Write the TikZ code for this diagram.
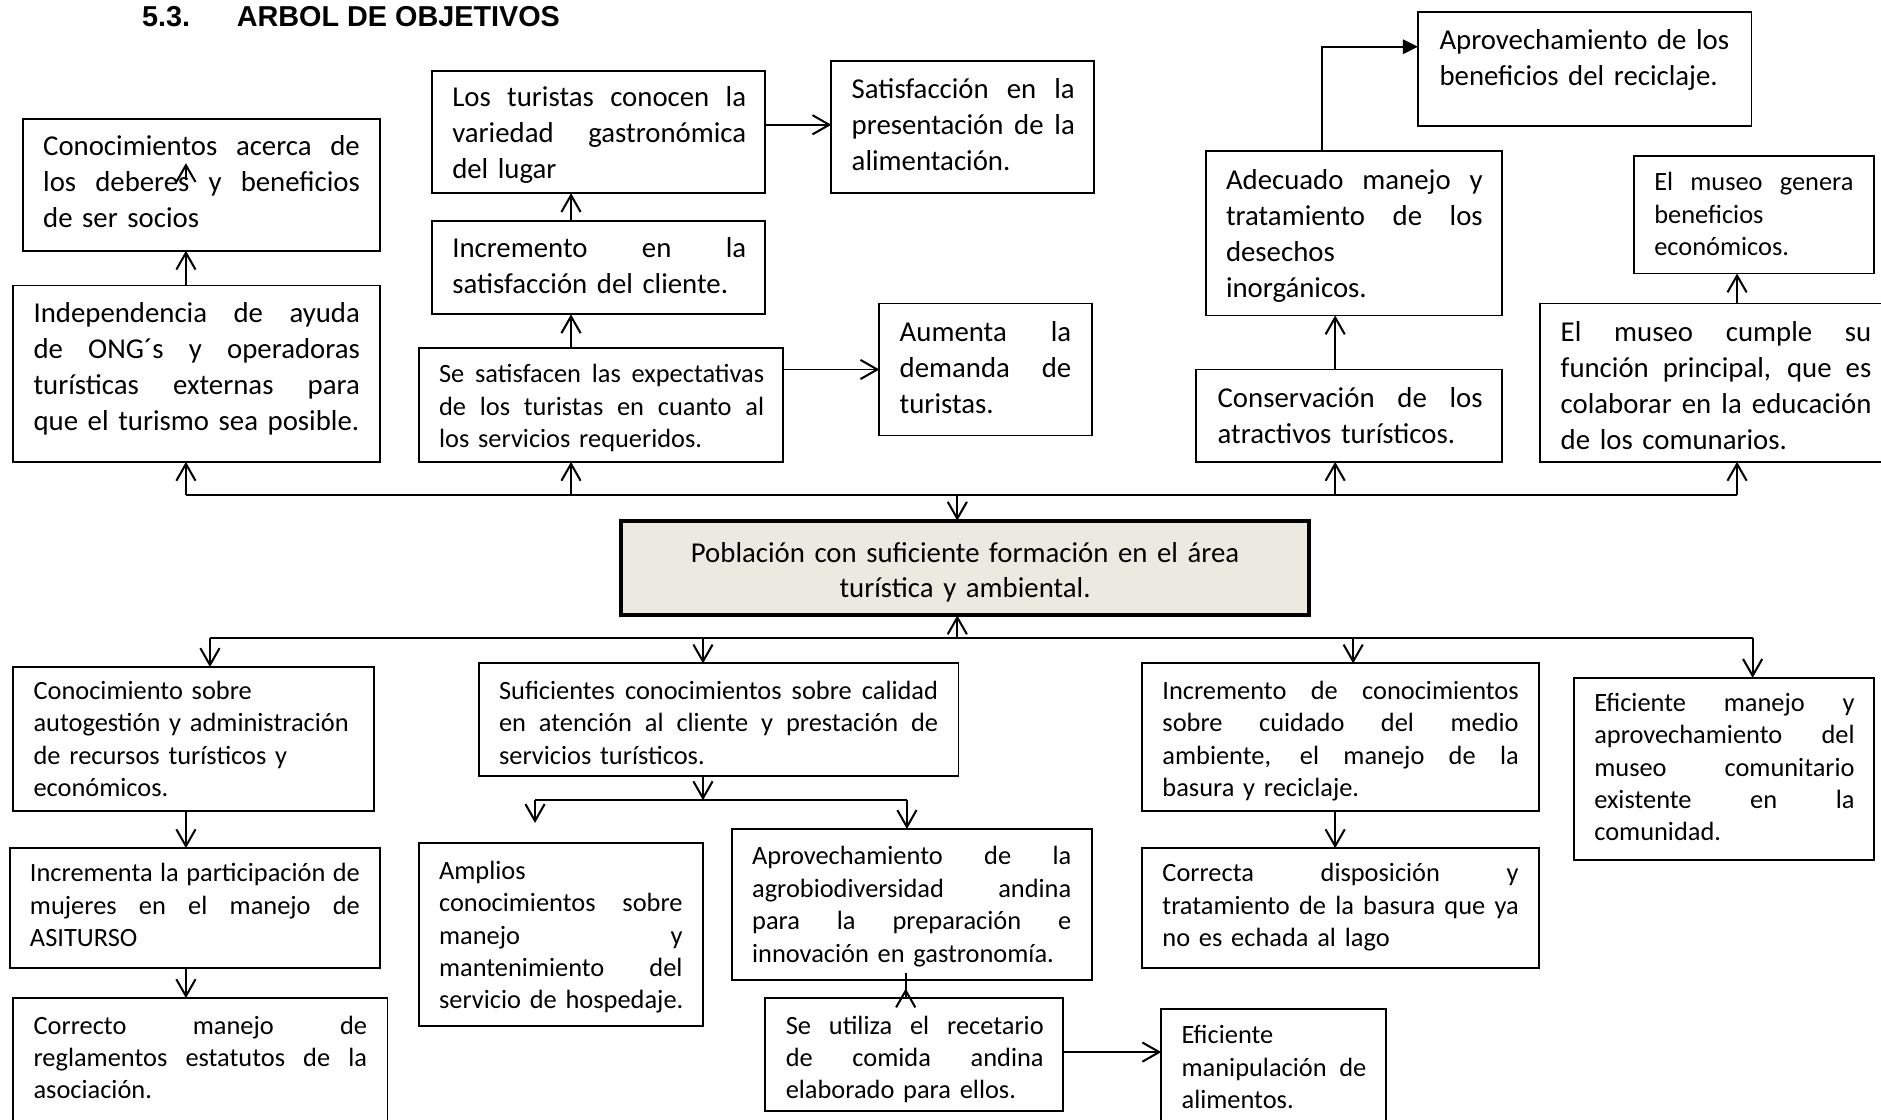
\documentclass[tikz,border=0pt]{standalone}
\usepackage{fontspec}
\setmainfont{Carlito}
\newfontfamily\titlefont{Liberation Sans}
\usetikzlibrary{arrows.meta,calc}
\definecolor{goalfill}{RGB}{236,234,224}
\tikzset{
  bx/.style={draw=black, line width=0.8pt, inner sep=0pt, outer sep=0pt, anchor=north west},
  big/.style={font=\fontsize{12}{15}\selectfont},
  small/.style={font=\fontsize{11}{13.5}\selectfont},
  txt/.style={inner sep=0pt, outer sep=0pt, anchor=base west, align=left},
  ln/.style={line width=0.8pt},
  arr/.style={line width=0.8pt, -{Straight Barb[length=7pt,width=8pt,line width=0.85pt]}},
  farr/.style={line width=0.9pt, -{Triangle[length=6.3pt,width=6pt]}},
}
\newcommand\mkbox[5]{\node[bx, minimum width={(#4-#2)*0.5pt}, minimum height={(#5-#3)*0.5pt}] (#1) at (#2,#3) {};}
\newlength\tw
\newcommand\tx[6]{\node[txt,#1,text width=#5+40pt] (#2) at (#3,#4) {\setlength\tw{#5}\leavevmode #6};}
\newcommand\jl[1]{\leavevmode\hbox to \tw{\spaceskip=\fontdimen2\font plus 1fil\relax #1}\\}
\begin{document}
\begin{tikzpicture}[x=0.5pt,y=-0.5pt]
\useasboundingbox (0,0) rectangle (1568,933.6);
% title
\node[anchor=base west, inner sep=0pt, font=\titlefont\bfseries\fontsize{12}{14}\selectfont] (tnum) at (118,22) {5.3.};
\node[anchor=base west, inner sep=0pt, font=\titlefont\bfseries\fontsize{12}{14}\selectfont] (ttitle) at (197,22) {ARBOL DE OBJETIVOS};
% upper boxes
\mkbox{b1}{19}{99}{317}{209}
\tx{big}{t1}{36}{130}{132pt}{\jl{Conocimientos acerca de}\jl{los deberes y beneficios}de ser socios}
\mkbox{b2}{11}{238}{317}{385}
\tx{big}{t2}{28}{269}{136pt}{\jl{Independencia de ayuda}\jl{de ONG´s y operadoras}\jl{turísticas externas para}que el turismo sea posible.}
\mkbox{b3}{360}{59}{638}{161}
\tx{big}{t3}{377}{89}{122.5pt}{\jl{Los turistas conocen la}\jl{variedad gastronómica}del lugar}
\mkbox{b4}{360}{184}{638}{262}
\tx{big}{t4}{377}{215}{122.5pt}{\jl{Incremento en la}satisfacción del cliente.}
\mkbox{b5}{349}{290}{653}{385}
\tx{small}{t5}{366}{319}{135.5pt}{\jl{Se satisfacen las expectativas}\jl{de los turistas en cuanto al}los servicios requeridos.}
\mkbox{b6}{693}{51}{912}{161}
\tx{big}{t6}{710}{82}{93pt}{\jl{Satisfacción en la}\jl{presentación de la}alimentación.}
\mkbox{b7}{733}{253}{910}{363}
\tx{big}{t7}{750}{285}{71.5pt}{\jl{Aumenta la}\jl{demanda de}turistas.}
\mkbox{b8}{1182}{10}{1460}{105}
\tx{big}{t8}{1200}{41}{125pt}{Aprovechamiento de los\\beneficios del reciclaje.}
\mkbox{b9}{1005}{126}{1252}{263}
\tx{big}{t9}{1022}{158}{107pt}{\jl{Adecuado manejo y}\jl{tratamiento de los}desechos\\inorgánicos.}
\mkbox{b10}{997}{308}{1252}{385}
\tx{big}{t10}{1015}{340}{110.5pt}{\jl{Conservación de los}atractivos turísticos.}
\mkbox{b11}{1362}{130}{1562}{228}
\tx{small}{t11}{1379}{159}{83pt}{\jl{El museo genera}beneficios\\económicos.}
\mkbox{b12}{1284}{253}{1575}{385}
\tx{big}{t12}{1301}{285}{129.5pt}{\jl{El museo cumple su}\jl{función principal, que es}\jl{colaborar en la educación}de los comunarios.}
% central goal
\node[draw=black, line width=1.7pt, fill=goalfill, inner sep=0pt, outer sep=0pt, anchor=north west, minimum width={(1091-518)*0.5pt}, minimum height={(513-434)*0.5pt}] (goal) at (518,434) {};
\node[inner sep=0pt, anchor=base, align=center, text width=270pt, font=\fontsize{12}{14.5}\selectfont] (tgoal) at (804.5,469) {Población con suficiente formación en el área\\turística y ambiental.};
% lower boxes
\mkbox{b13}{11}{556}{312}{676}
\tx{small}{t13}{28}{583}{145pt}{Conocimiento sobre\\autogestión y administración\\de recursos turísticos y\\económicos.}
\mkbox{b14}{8}{707}{317}{807}
\tx{small}{t14}{25}{735}{137.5pt}{\jl{Incrementa la participación de}\jl{mujeres en el manejo de}ASITURSO}
\mkbox{b15}{11}{832}{323}{960}
\tx{small}{t15}{28}{862}{139pt}{\jl{Correcto manejo de}\jl{reglamentos estatutos de la}asociación.}
\mkbox{b16}{399}{553}{799}{647}
\tx{small}{t16}{416}{583}{183pt}{\jl{Suficientes conocimientos sobre calidad}\jl{en atención al cliente y prestación de}servicios turísticos.}
\mkbox{b17}{349}{703}{586}{855}
\tx{small}{t17}{366}{733}{101.5pt}{Amplios\\\jl{conocimientos sobre}\jl{manejo y}\jl{mantenimiento del}servicio de hospedaje.}
\mkbox{b18}{610}{691}{910}{817}
\tx{small}{t18}{627}{721}{133pt}{\jl{Aprovechamiento de la}\jl{agrobiodiversidad andina}\jl{para la preparación e}innovación en gastronomía.}
\mkbox{b19}{638}{832}{886}{926}
\tx{small}{t19}{655}{862}{107.5pt}{\jl{Se utiliza el recetario}\jl{de comida andina}elaborado para ellos.}
\mkbox{b20}{968}{841}{1155}{960}
\tx{small}{t20}{985}{870}{77pt}{Eficiente\\\jl{manipulación de}alimentos.}
\mkbox{b21}{952}{553}{1283}{676}
\tx{small}{t21}{969}{583}{148.5pt}{\jl{Incremento de conocimientos}\jl{sobre cuidado del medio}\jl{ambiente, el manejo de la}basura y reciclaje.}
\mkbox{b22}{952}{707}{1283}{807}
\tx{small}{t22}{969}{735}{148.5pt}{\jl{Correcta disposición y}\jl{tratamiento de la basura que ya}no es echada al lago}
\mkbox{b23}{1312}{565}{1562}{717}
\tx{small}{t23}{1329}{593}{108.5pt}{\jl{Eficiente manejo y}\jl{aprovechamiento del}\jl{museo comunitario}\jl{existente en la}comunidad.}
% ---------- upper connectors
\coordinate (ubA) at (155,413);
\coordinate (ubB) at (476,413);
\coordinate (ubC) at (798,413);
\coordinate (ubD) at (1113,413);
\coordinate (ubE) at (1448,413);
\draw[ln] (ubA) -- (ubE);
\draw[arr] (ubA) -- (ubA |- b2.south);
\draw[arr] (ubB) -- (ubB |- b5.south);
\draw[arr] (ubD) -- (ubD |- b10.south);
\draw[arr] (ubE) -- (ubE |- b12.south);
\draw[arr] (ubC) -- (ubC |- goal.north);
\draw[arr] (ubA |- b2.north) -- (ubA |- b1.south);
\coordinate (s1) at (155,150);
\coordinate (s2) at (155,136);
\draw[arr] (s1) -- (s2);
\draw[arr] (ubB |- b5.north) -- (ubB |- b4.south);
\draw[arr] (ubB |- b4.north) -- (ubB |- b3.south);
\coordinate (yA) at (0,104);
\draw[arr] (b3.east |- yA) -- (b6.west |- yA);
\coordinate (yB) at (0,308);
\draw[arr] (b5.east |- yB) -- (b7.west |- yB);
\draw[arr] (ubD |- b10.north) -- (ubD |- b9.south);
\coordinate (xR) at (1102,39);
\draw[farr] (xR |- b9.north) -- (xR) -- (b8.west |- xR);
\draw[arr] (ubE |- b12.north) -- (ubE |- b11.south);
% ---------- lower connectors
\coordinate (lbA) at (175,532);
\coordinate (lbB) at (586,532);
\coordinate (lbC) at (798,532);
\coordinate (lbD) at (1128,532);
\coordinate (lbE) at (1461,532);
\draw[ln] (lbA) -- (lbE);
\draw[arr] (lbC) -- (lbC |- goal.south);
\draw[arr] (lbA) -- (lbA |- b13.north);
\draw[arr] (lbB) -- (lbB |- b16.north);
\draw[arr] (lbD) -- (lbD |- b21.north);
\draw[arr] (lbE) -- (lbE |- b23.north);
\coordinate (cx) at (155,0);
\draw[arr] (cx |- b13.south) -- (cx |- b14.north);
\draw[arr] (cx |- b14.south) -- (cx |- b15.north);
\coordinate (sbL) at (446,667);
\coordinate (sbR) at (756,667);
\coordinate (sbLend) at (446,686);
\draw[arr] (lbB |- b16.south) -- (lbB |- sbL);
\draw[ln] (sbL) -- (sbR);
\draw[arr] (sbL) -- (sbLend);
\draw[arr] (sbR) -- (sbR |- b18.north);
\coordinate (xS) at (755,811);
\coordinate (xStip) at (755,824);
\draw[ln] (xS |- b19.north) -- (xS);
\draw[arr] (xS |- b19.north) -- (xStip);
\coordinate (yC) at (0,877);
\draw[arr] (b19.east |- yC) -- (b20.west |- yC);
\coordinate (xD) at (1113,0);
\draw[arr] (xD |- b21.south) -- (xD |- b22.north);
\end{tikzpicture}
\end{document}
